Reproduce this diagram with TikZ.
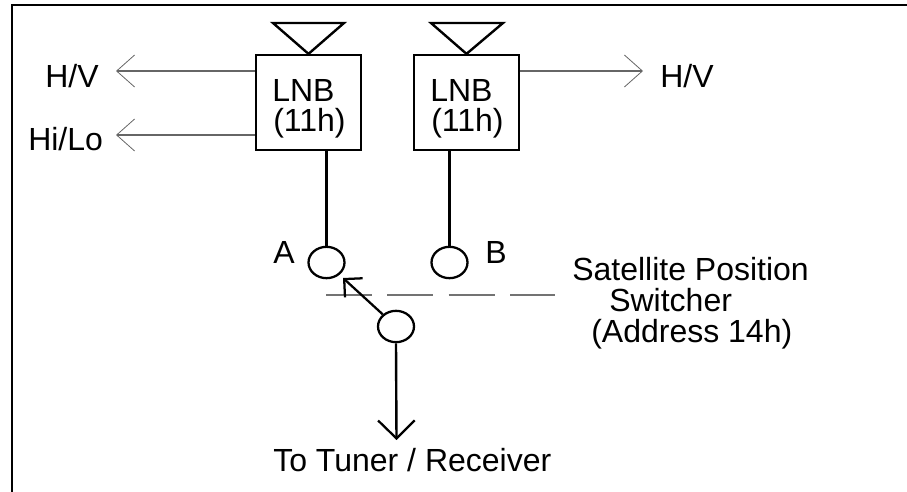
\documentclass[tikz,border=0pt]{standalone}
\usepackage{fontspec}
\setmainfont{Liberation Sans}
\usetikzlibrary{arrows.meta,positioning,shapes.geometric}
\tikzset{
  frame-line/.style={draw,black,line width=1.7pt},
  box-lnb/.style={draw,rectangle,line width=1.7pt,minimum width=78.75pt,minimum height=71.25pt,inner sep=0pt},
  port/.style={draw,ellipse,line width=1.7pt,minimum width=27pt,minimum height=23.5pt,inner sep=0pt},
  feed/.style={line width=1.8pt},
  ctrl/.style={-{Straight Barb[length=13.5pt,width=24pt,line width=0.6pt]},line width=0.9pt,black!60},
  sel/.style={-{Straight Barb[length=9.75pt,width=19.5pt,line width=1.7pt]},line width=1.7pt},
  out-line/.style={-{Straight Barb[length=13.5pt,width=27.5pt,line width=1.7pt]},line width=1.8pt},
  dashline/.style={draw,black!55,line width=1.2pt,dash pattern=on 34.5pt off 11.5pt},
  lab/.style={font=\fontsize{24pt}{28pt}\selectfont,inner sep=0pt,anchor=base west},
}
\begin{document}
\begin{tikzpicture}[x=0.75pt,y=-0.75pt]

  \useasboundingbox (0,0) rectangle (907,492);
  \draw[frame-line] (12,492) -- (12,5) -- (907,5);

  % LNB
  \node[box-lnb] (lnb1) at (308.5,102.5) {};
  \node[box-lnb] (lnb2) at (466.5,102.5) {};
  \node[lab] (lnb1a) at (272,102) {LNB};
  \node[lab] (lnb1b) at (273,132) {(11h)};
  \node[lab] (lnb2a) at (430,102) {LNB};
  \node[lab] (lnb2b) at (431,132) {(11h)};
  \draw[feed] (273,23) -- (344,23) -- (lnb1.north) -- cycle;
  \draw[feed] (431,23) -- (503,23) -- (lnb2.north) -- cycle;

  % CONTROL LINES
  \node[lab] (hv1) at (45,88)  {H/V};
  \node[lab] (hilo) at (28,151) {Hi/Lo};
  \node[lab] (hv2) at (660,88) {H/V};
  \coordinate (hv1tip) at (116,71);
  \coordinate (hilotip) at (116,135);
  \coordinate (hv2tip) at (643,71);
  \draw[ctrl] (lnb1.west |- hv1tip) -- (hv1tip);
  \draw[ctrl] (lnb1.west |- hilotip) -- (hilotip);
  \draw[ctrl] (lnb2.east |- hv2tip) -- (hv2tip);

  % SWITCH
  \node[port] (portA) at (326.5,262.5) {};
  \node[port] (portB) at (449.5,262.5) {};
  \node[port] (portC) at (396,326.5) {};
  \node[lab] (labA) at (273,263) {A};
  \node[lab] (labB) at (485,263) {B};
  \draw[feed] (portA.north |- lnb1.south) -- (portA.north);
  \draw[feed] (portB.north |- lnb2.south) -- (portB.north);
  \coordinate (dashL) at (326,295);
  \coordinate (dashR) at (555,295);
  \draw[dashline] (dashL) -- (dashR);
  \coordinate (seltip) at (343,278);
  \draw[sel] (portC) -- (seltip);

  \node[lab] (sw1) at (572,280) {Satellite Position};
  \node[lab] (sw2) at (609,311) {Switcher};
  \node[lab] (sw3) at (591,342) {(Address 14h)};

  % OUTPUT
  \coordinate (outtip) at (396.5,440);
  \draw[out-line] (portC.south) -- (outtip);
  \node[lab] (out) at (273,471) {To Tuner / Receiver};

\end{tikzpicture}
\end{document}
